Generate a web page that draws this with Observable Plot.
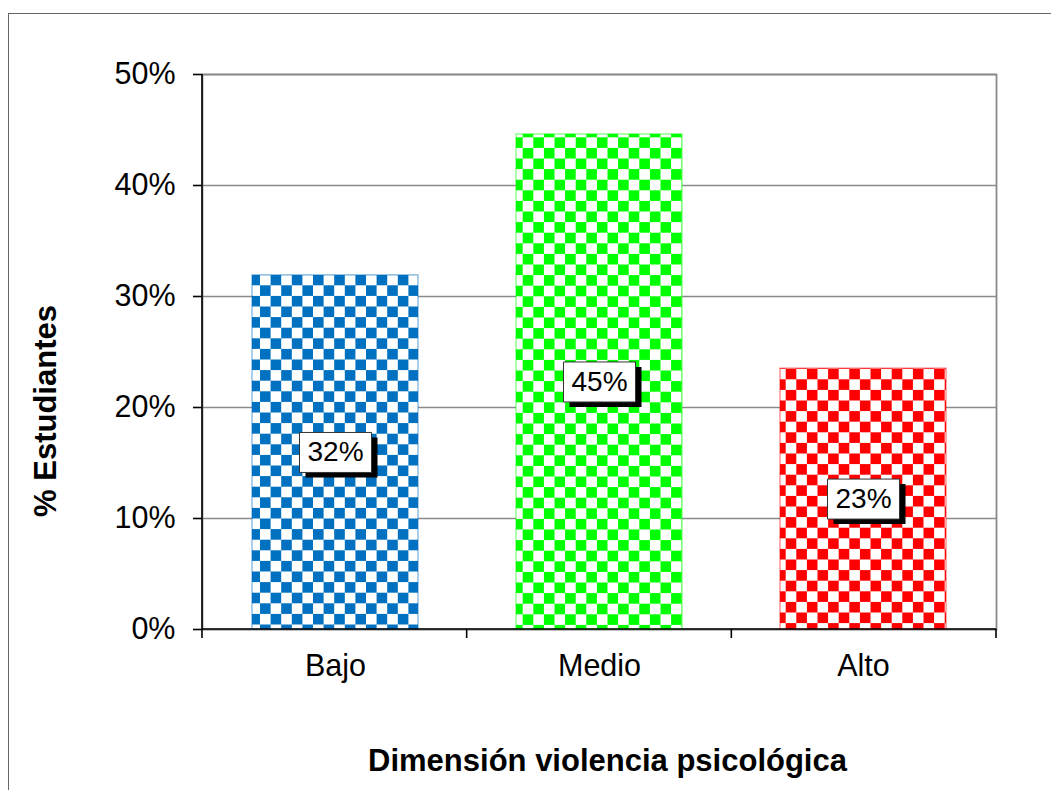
<!DOCTYPE html>
<html>
<head>
<meta charset="utf-8">
<script src="https://cdn.jsdelivr.net/npm/d3@7"></script>
<script src="https://cdn.jsdelivr.net/npm/@observablehq/plot@0.6"></script>
<style>
  html, body { margin: 0; padding: 0; background: #fff; overflow: hidden; }
  #chart { position: absolute; left: 0; top: 0; }
  #border { position: absolute; left: 8px; top: 13px; width: 1200px; height: 1000px;
            border-left: 1.5px solid #666; border-top: 1.5px solid #666; pointer-events: none; }
</style>
</head>
<body>
<div id="chart"></div>
<div id="border"></div>
<script>
// ---- data ----
const categories = ["Bajo", "Medio", "Alto"];
const values = [0.319, 0.446, 0.235];
const labels = ["32%", "45%", "23%"];
const yTicks = [0, 0.1, 0.2, 0.3, 0.4, 0.5];
const colors = ["#0070C0", "#00FF00", "#FF0000"];
const xTitle = "Dimensión violencia psicológica";
const yTitle = "% Estudiantes";

const data = categories.map((c, i) => ({cat: c, value: values[i], label: labels[i], idx: i}));

const FONT = "'Liberation Sans', Arial, sans-serif";
const cell = 10.6;
const patOffsets = [[16.2, 20.3], [3.3, 10.1], [1.3, 8.3]];

// pattern definitions (checkerboard fills)
const patternDefs = () => {
  const defs = d3.create("svg:defs");
  colors.forEach((col, i) => {
    const p = defs.append("pattern")
      .attr("id", "pat" + i)
      .attr("patternUnits", "userSpaceOnUse")
      .attr("width", cell * 2).attr("height", cell * 2)
      .attr("x", patOffsets[i][0]).attr("y", patOffsets[i][1]);
    p.append("rect").attr("width", cell * 2).attr("height", cell * 2).attr("fill", "#fff");
    p.append("rect").attr("width", cell).attr("height", cell).attr("fill", col);
    p.append("rect").attr("x", cell).attr("y", cell).attr("width", cell).attr("height", cell).attr("fill", col);
  });
  return defs.node();
};

// black axis lines + category boundary ticks
const axisLines = (index, scales, vals, dims) => {
  const {width, height, marginLeft, marginRight, marginTop, marginBottom} = dims;
  const x0 = marginLeft, x1 = width - marginRight, y1 = height - marginBottom;
  const step = (x1 - x0) / categories.length;
  const g = d3.create("svg:g").attr("stroke", "#000").attr("stroke-width", 1.6).attr("fill", "none");
  g.append("line").attr("x1", x0).attr("x2", x0).attr("y1", marginTop).attr("y2", y1 + 9);
  g.append("line").attr("x1", x0).attr("x2", x1).attr("y1", y1).attr("y2", y1);
  for (let i = 1; i <= categories.length; i++) {
    const bx = x0 + i * step;
    g.append("line").attr("x1", bx).attr("x2", bx).attr("y1", y1).attr("y2", y1 + 9);
  }
  return g.node();
};

const boxSymbol = {
  draw(ctx) {
    ctx.moveTo(-36, -20); ctx.lineTo(36, -20); ctx.lineTo(36, 20); ctx.lineTo(-36, 20); ctx.closePath();
  }
};

const chart = Plot.plot({
  width: 1051,
  height: 790,
  marginLeft: 202,
  marginRight: 55,
  marginTop: 74,
  marginBottom: 161,
  style: {fontFamily: FONT, background: "#fff", color: "#000"},
  x: {domain: categories, paddingInner: 0.373, paddingOuter: 0.1865, label: null},
  y: {domain: [0, 0.5], label: null},
  color: {type: "identity"},
  marks: [
    patternDefs,
    Plot.gridY(yTicks, {stroke: "#8a8a8a", strokeOpacity: 1, strokeWidth: 1.6}),
    Plot.frame({stroke: "#8a8a8a", strokeWidth: 1.8}),
    Plot.barY(data, {
      x: "cat", y: "value",
      fill: d => "url(#pat" + d.idx + ")",
      stroke: d => colors[d.idx], strokeOpacity: 0.55, strokeWidth: 1.2
    }),
    axisLines,
    Plot.axisY({ticks: yTicks, tickFormat: d3.format(".0%"), tickSize: 9, tickPadding: 18,
      fontSize: 30.5, stroke: "#000", strokeWidth: 1.6, label: null}),
    Plot.axisX({tickSize: 0, tickPadding: 25, fontSize: 30.5, label: null}),
    // data labels with shadowed boxes
    Plot.dot(data, {x: "cat", y: d => d.value / 2, symbol: boxSymbol, fill: "#000", stroke: "none", dx: 6, dy: 5}),
    Plot.dot(data, {x: "cat", y: d => d.value / 2, symbol: boxSymbol, fill: "#fff", stroke: "#333", strokeWidth: 1}),
    Plot.text(data, {x: "cat", y: d => d.value / 2, text: "label", fontSize: 28, fill: "#000"}),
    // axis titles
    Plot.text([xTitle], {frameAnchor: "bottom", text: d => d, fontSize: 31, fontWeight: "bold",
      textAnchor: "middle", lineAnchor: "middle", dy: 132, dx: 8, fill: "#000"}),
    Plot.text([yTitle], {frameAnchor: "left", text: d => d, fontSize: 31, fontWeight: "bold",
      textAnchor: "middle", rotate: -90, lineAnchor: "middle", dx: -156, dy: 59, fill: "#000"})
  ]
});

document.getElementById("chart").append(chart);
</script>
</body>
</html>
